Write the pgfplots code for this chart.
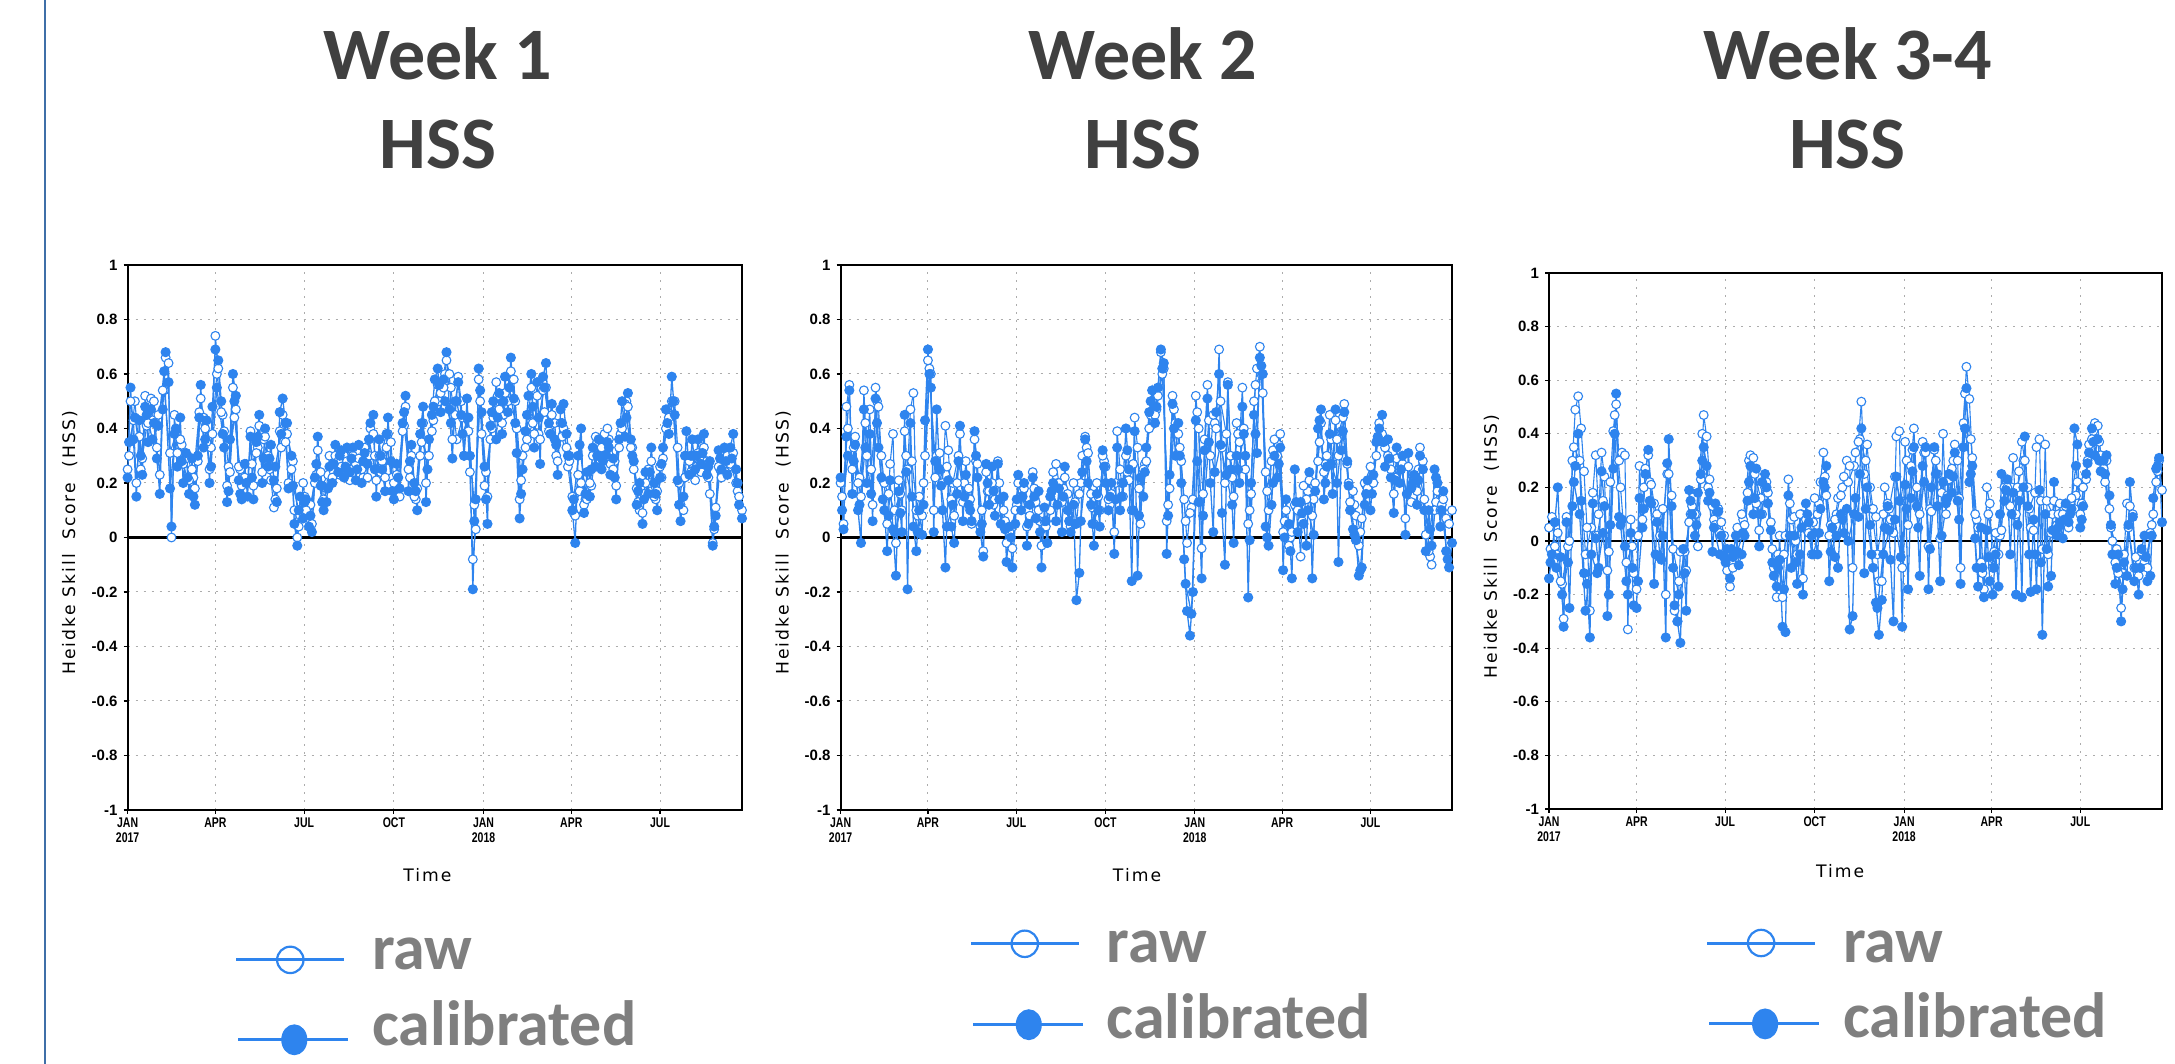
\documentclass[border=0pt]{standalone}
\usepackage{pgfplots}
\pgfplotsset{compat=1.18}
\usepackage{pgfplotstable}
\usepackage{fontspec}
\setmainfont{Liberation Sans}
\newfontfamily\carlito{Carlito}
\newfontfamily\ylfont[LetterSpace=12]{DejaVu Sans}
\newfontfamily\xlfont[FakeStretch=0.75]{Liberation Sans}
\definecolor{hblue}{HTML}{2E84EE}
\definecolor{ttl}{HTML}{404040}
\definecolor{lgd}{HTML}{7F7F7F}
\definecolor{edge}{HTML}{3F6FA8}

\pgfplotstableread[row sep=\\]{d c r\\
0 .22 .25\\ 3 .55 .5\\ 6 .36 .43\\ 9 .15 .2\\ 12 .43 .37\\ 15 .23 .29\\ 18 .48 .52\\ 21 .35 .42\\
24 .47 .51\\ 27 .42 .5\\ 30 .29 .33\\ 33 .16 .23\\ 36 .47 .54\\ 39 .68 .66\\ 42 .57 .64\\ 45 .04 .0\\
48 .38 .45\\ 51 .26 .31\\ 54 .44 .36\\ 57 .2 .27\\ 60 .31 .29\\ 63 .16 .21\\ 66 .29 .25\\ 69 .12 .18\\
72 .3 .28\\ 75 .56 .51\\ 78 .33 .44\\ 81 .43 .35\\ 84 .2 .25\\ 87 .48 .38\\ 90 .69 .74\\ 93 .65 .62\\
96 .5 .46\\ 99 .33 .39\\ 102 .13 .19\\ 105 .36 .24\\ 108 .6 .55\\ 111 .52 .47\\ 114 .21 .26\\ 117 .14 .19\\
120 .27 .22\\ 123 .15 .2\\ 126 .37 .39\\ 129 .14 .19\\ 132 .35 .31\\ 135 .45 .41\\ 138 .2 .24\\ 141 .4 .37\\
144 .26 .3\\ 147 .34 .21\\ 150 .21 .11\\ 153 .13 .18\\ 156 .46 .39\\ 159 .51 .45\\ 162 .42 .35\\ 165 .18 .2\\
168 .3 .25\\ 171 .05 .1\\ 174 -.03 .0\\ 177 .15 .08\\ 180 .07 .2\\ 183 .14 .1\\ 186 .04 .07\\ 189 .02 .05\\
192 .22 .2\\ 195 .37 .32\\ 198 .19 .24\\ 201 .1 .14\\ 204 .13 .18\\ 207 .26 .3\\ 210 .2 .22\\ 213 .34 .3\\
216 .24 .28\\ 219 .32 .26\\ 222 .22 .3\\ 225 .33 .28\\ 228 .24 .21\\ 231 .33 .3\\ 234 .21 .27\\ 237 .34 .29\\
240 .2 .25\\ 243 .31 .33\\ 246 .27 .22\\ 249 .42 .4\\ 252 .45 .38\\ 255 .15 .21\\ 258 .36 .3\\ 261 .25 .28\\
264 .17 .22\\ 267 .44 .38\\ 270 .28 .35\\ 273 .14 .2\\ 276 .27 .23\\ 279 .18 .15\\ 282 .42 .39\\ 285 .52 .48\\
288 .17 .25\\ 291 .34 .3\\ 294 .2 .15\\ 297 .1 .18\\ 300 .38 .3\\ 303 .48 .42\\ 306 .13 .2\\ 309 .36 .3\\
312 .45 .39\\ 315 .58 .5\\ 318 .62 .56\\ 321 .46 .53\\ 324 .58 .55\\ 327 .68 .65\\ 330 .47 .6\\ 333 .29 .36\\
336 .5 .45\\ 339 .57 .59\\ 342 .45 .5\\ 345 .3 .3\\ 348 .51 .44\\ 351 .3 .24\\ 354 -.19 -.08\\ 357 .14 .03\\
360 .62 .58\\ 363 .46 .38\\ 366 .26 .19\\ 369 .05 .15\\ 372 .41 .36\\ 375 .5 .44\\ 378 .36 .57\\ 381 .53 .47\\
384 .38 .42\\ 387 .59 .53\\ 390 .46 .5\\ 393 .66 .61\\ 396 .51 .58\\ 399 .31 .4\\ 402 .07 .14\\ 405 .25 .3\\
408 .39 .33\\ 411 .52 .45\\ 414 .6 .55\\ 417 .33 .38\\ 420 .57 .52\\ 423 .27 .36\\ 426 .59 .54\\ 429 .64 .55\\
432 .42 .39\\ 435 .49 .45\\ 438 .36 .42\\ 441 .23 .28\\ 444 .47 .42\\ 447 .49 .4\\ 450 .38 .33\\ 453 .3 .28\\
456 .1 .15\\ 459 -.02 .08\\ 462 .3 .23\\ 465 .4 .2\\ 468 .09 .12\\ 471 .24 .14\\ 474 .15 .2\\ 477 .33 .3\\
480 .26 .37\\ 483 .36 .3\\ 486 .25 .33\\ 489 .3 .38\\ 492 .35 .4\\ 495 .23 .27\\ 498 .29 .25\\ 501 .14 .19\\
504 .36 .33\\ 507 .5 .4\\ 510 .37 .49\\ 513 .53 .48\\ 516 .36 .33\\ 519 .28 .25\\ 522 .12 .18\\ 525 .2 .1\\
528 .05 .09\\ 531 .24 .2\\ 534 .16 .25\\ 537 .33 .28\\ 540 .2 .15\\ 543 .1 .17\\ 546 .22 .26\\ 549 .33 .29\\
552 .47 .4\\ 555 .38 .44\\ 558 .59 .5\\ 561 .45 .5\\ 564 .21 .33\\ 567 .06 .12\\ 570 .15 .1\\ 573 .39 .3\\
576 .23 .28\\ 579 .36 .3\\ 582 .25 .21\\ 585 .36 .31\\ 588 .27 .24\\ 591 .38 .33\\ 594 .23 .28\\ 597 .28 .16\\
600 -.03 -.02\\ 603 .08 .11\\ 606 .32 .26\\ 609 .25 .22\\ 612 .33 .29\\ 615 .23 .3\\ 618 .33 .27\\ 621 .38 .31\\
624 .25 .2\\ 627 .12 .15\\ 630 .07 .1\\
}\tA
\pgfplotstableread[row sep=\\]{d c r\\
1.5 .35 .3\\ 7.5 .44 .5\\ 13.5 .3 .25\\ 19.5 .45 .41\\ 25.5 .36 .43\\ 31.5 .41 .45\\ 37.5 .61 .54\\ 43.5 .18 .31\\
49.5 .4 .38\\ 55.5 .28 .34\\ 61.5 .22 .3\\ 67.5 .15 .22\\ 73.5 .44 .46\\ 79.5 .36 .4\\ 85.5 .26 .33\\ 91.5 .55 .6\\
97.5 .38 .45\\ 103.5 .17 .26\\ 109.5 .5 .44\\ 115.5 .16 .25\\ 121.5 .2 .27\\ 127.5 .22 .27\\ 133.5 .37 .33\\ 139.5 .29 .36\\
145.5 .29 .25\\ 151.5 .26 .14\\ 157.5 .38 .33\\ 163.5 .42 .38\\ 169.5 .19 .28\\ 175.5 .1 .04\\ 181.5 .13 .15\\ 187.5 .08 .12\\
193.5 .27 .23\\ 199.5 .13 .19\\ 205.5 .18 .23\\ 211.5 .27 .24\\ 217.5 .3 .23\\ 223.5 .26 .3\\ 229.5 .29 .25\\ 235.5 .25 .31\\
241.5 .28 .22\\ 247.5 .36 .3\\ 253.5 .25 .3\\ 259.5 .3 .24\\ 265.5 .38 .33\\ 271.5 .17 .22\\ 277.5 .22 .18\\ 283.5 .46 .41\\
289.5 .28 .22\\ 295.5 .17 .14\\ 301.5 .42 .35\\ 307.5 .25 .3\\ 313.5 .48 .43\\ 319.5 .56 .5\\ 325.5 .5 .6\\ 331.5 .42 .55\\
337.5 .5 .36\\ 343.5 .38 .44\\ 349.5 .44 .39\\ 355.5 .06 .12\\ 361.5 .54 .5\\ 367.5 .14 .24\\ 373.5 .46 .4\\ 379.5 .44 .52\\
385.5 .5 .45\\ 391.5 .55 .59\\ 397.5 .42 .5\\ 403.5 .16 .21\\ 409.5 .45 .36\\ 415.5 .48 .42\\ 421.5 .44 .38\\ 427.5 .55 .46\\
433.5 .38 .42\\ 439.5 .34 .3\\ 445.5 .42 .37\\ 451.5 .3 .26\\ 457.5 .14 .09\\ 463.5 .34 .17\\ 469.5 .16 .14\\ 475.5 .25 .19\\
481.5 .3 .35\\ 487.5 .28 .32\\ 493.5 .33 .36\\ 499.5 .22 .28\\ 505.5 .42 .38\\ 511.5 .44 .5\\ 517.5 .3 .33\\ 523.5 .17 .13\\
529.5 .14 .16\\ 535.5 .24 .2\\ 541.5 .16 .14\\ 547.5 .27 .22\\ 553.5 .42 .47\\ 559.5 .5 .45\\ 565.5 .12 .2\\ 571.5 .3 .22\\
577.5 .3 .24\\ 583.5 .3 .26\\ 589.5 .31 .28\\ 595.5 .26 .22\\ 601.5 .04 .03\\ 607.5 .29 .25\\ 613.5 .28 .24\\ 619.5 .29 .26\\ 625.5 .2 .17\\
}\tAx

\pgfplotstableread[row sep=\\]{d c r\\
0 .22 .2\\ 3 .03 .05\\ 6 .37 .48\\ 9 .54 .56\\ 12 .16 .25\\ 15 .34 .37\\ 18 .1 .2\\ 21 -.02 .15\\
24 .47 .54\\ 27 .2 .3\\ 30 .38 .47\\ 33 .06 .12\\ 36 .51 .55\\ 39 .33 .48\\ 42 .22 .3\\ 45 .1 .2\\
48 -.05 .05\\ 51 .21 .27\\ 54 .03 .38\\ 57 -.14 -.02\\ 60 .17 .21\\ 63 .02 .1\\ 66 .45 .39\\ 69 -.19 .25\\
72 .42 .47\\ 75 .04 .53\\ 78 -.05 .1\\ 81 .1 .15\\ 84 .01 .08\\ 87 .43 .3\\ 90 .69 .65\\ 93 .55 .6\\
96 .02 .1\\ 99 .47 .3\\ 102 .25 .31\\ 105 .1 .2\\ 108 -.11 .41\\ 111 .21 .32\\ 114 .04 .14\\ 117 -.02 .08\\
120 .16 .2\\ 123 .41 .38\\ 126 .06 .13\\ 129 .23 .28\\ 132 .12 .18\\ 135 .06 .05\\ 138 .39 .36\\ 141 .22 .27\\
144 .02 .04\\ 147 -.07 -.05\\ 150 .27 .24\\ 153 .12 .17\\ 156 .26 .2\\ 159 .08 .14\\ 162 .27 .28\\ 165 .05 .14\\
168 .15 .1\\ 171 -.09 -.02\\ 174 .04 .02\\ 177 -.11 -.04\\ 180 .05 .1\\ 183 .23 .2\\ 186 .1 .15\\ 189 .2 .18\\
192 -.03 .04\\ 195 .12 .08\\ 198 .22 .24\\ 201 .07 .13\\ 204 .17 .1\\ 207 -.11 -.03\\ 210 .11 .06\\ 213 -.02 -.02\\
216 .15 .1\\ 219 .2 .24\\ 222 .06 .27\\ 225 .18 .2\\ 228 .02 .13\\ 231 .26 .22\\ 234 .1 .16\\ 237 .02 .04\\
240 .12 .2\\ 243 -.23 .05\\ 246 -.13 .16\\ 249 .24 .3\\ 252 .36 .37\\ 255 .2 .31\\ 258 .12 .16\\ 261 -.03 .05\\
264 .16 .2\\ 267 .04 .1\\ 270 .32 .3\\ 273 .2 .26\\ 276 .1 .14\\ 279 .2 .16\\ 282 -.06 .02\\ 285 .33 .39\\
288 .1 .25\\ 291 .2 .15\\ 294 .4 .3\\ 297 .25 .21\\ 300 -.16 .1\\ 303 .39 .44\\ 306 -.14 .33\\ 309 .22 .05\\
312 .15 .25\\ 315 .33 .28\\ 318 .46 .4\\ 321 .54 .5\\ 324 .42 .45\\ 327 .55 .52\\ 330 .69 .68\\ 333 .64 .62\\
336 -.06 .06\\ 339 .23 .18\\ 342 .49 .52\\ 345 .3 .42\\ 348 .42 .38\\ 351 .2 .28\\ 354 -.08 .14\\ 357 -.27 -.02\\
360 -.36 .09\\ 363 -.2 .14\\ 366 .43 .52\\ 369 .13 .4\\ 372 -.15 -.04\\ 375 .32 .36\\ 378 .51 .56\\ 381 .2 .3\\
384 .02 .45\\ 387 .46 .4\\ 390 .6 .69\\ 393 .09 .33\\ 396 -.1 .2\\ 399 .56 .57\\ 402 .25 .3\\ 405 -.02 .15\\
408 .3 .42\\ 411 .2 .35\\ 414 .48 .55\\ 417 .3 .25\\ 420 -.22 .05\\ 423 .2 .16\\ 426 .45 .5\\ 429 .31 .62\\
432 .66 .7\\ 435 .6 .53\\ 438 .04 .24\\ 441 -.03 .1\\ 444 .12 .28\\ 447 .3 .36\\ 450 .22 .3\\ 453 .33 .38\\
456 -.12 .02\\ 459 .14 .1\\ 462 .05 -.03\\ 465 -.15 .02\\ 468 .25 .12\\ 471 .02 .1\\ 474 .13 -.07\\ 477 .05 .19\\
480 -.03 .14\\ 483 .24 .21\\ 486 -.15 .08\\ 489 .17 .2\\ 492 .4 .28\\ 495 .47 .42\\ 498 .14 .24\\ 501 .26 .3\\
504 .38 .45\\ 507 .16 .27\\ 510 .47 .43\\ 513 -.09 .3\\ 516 .32 .39\\ 519 .46 .49\\ 522 .28 .27\\ 525 .1 .13\\
528 .03 .17\\ 531 -.01 .08\\ 534 -.14 -.03\\ 537 -.11 .07\\ 540 .12 .2\\ 543 .21 .18\\ 546 .1 .26\\ 549 .23 .2\\
552 .35 .3\\ 555 .4 .42\\ 558 .45 .38\\ 561 .26 .33\\ 564 .36 .3\\ 567 .22 .25\\ 570 .09 .16\\ 573 .33 .29\\
576 .2 .25\\ 579 .3 .27\\ 582 .01 .07\\ 585 .31 .26\\ 588 .18 .13\\ 591 .23 .2\\ 594 .12 .17\\ 597 .3 .33\\
600 .25 .28\\ 603 -.05 .01\\ 606 .1 -.05\\ 609 -.03 -.1\\ 612 .25 .1\\ 615 .2 .17\\ 618 .04 .1\\ 621 .17 .14\\
624 -.05 .07\\ 627 -.11 .05\\ 630 -.02 .1\\
}\tB
\pgfplotstableread[row sep=\\]{d c r\\
1.5 .1 .15\\ 7.5 .3 .4\\ 13.5 .28 .33\\ 19.5 .12 .22\\ 25.5 .33 .42\\ 31.5 .16 .25\\ 37.5 .42 .5\\ 43.5 .14 .21\\
49.5 .08 .16\\ 55.5 .02 .1\\ 61.5 .09 .16\\ 67.5 .24 .3\\ 73.5 .15 .28\\ 79.5 .02 .08\\ 85.5 .12 .2\\ 91.5 .6 .62\\
97.5 .28 .22\\ 103.5 .19 .25\\ 109.5 .04 .26\\ 115.5 .12 .2\\ 121.5 .28 .3\\ 127.5 .15 .2\\ 133.5 .1 .14\\ 139.5 .3 .28\\
145.5 .05 .1\\ 151.5 .2 .17\\ 157.5 .17 .12\\ 163.5 .14 .2\\ 169.5 .03 .06\\ 175.5 .0 .03\\ 181.5 .14 .12\\ 187.5 .15 .17\\
193.5 .05 .1\\ 199.5 .15 .18\\ 205.5 .02 .06\\ 211.5 .06 .04\\ 217.5 .17 .17\\ 223.5 .12 .2\\ 229.5 .15 .18\\ 235.5 .06 .1\\
241.5 .05 .13\\ 247.5 .06 .2\\ 253.5 .28 .33\\ 259.5 .05 .11\\ 265.5 .1 .15\\ 271.5 .26 .28\\ 277.5 .15 .12\\ 283.5 .14 .2\\
289.5 .15 .2\\ 295.5 .32 .24\\ 301.5 .1 .27\\ 307.5 .08 .18\\ 313.5 .24 .27\\ 319.5 .5 .45\\ 325.5 .48 .47\\ 331.5 .62 .6\\
337.5 .08 .12\\ 343.5 .4 .47\\ 349.5 .3 .33\\ 355.5 -.17 .06\\ 361.5 -.28 .11\\ 367.5 .28 .46\\ 373.5 .08 .16\\ 379.5 .35 .43\\
385.5 .24 .42\\ 391.5 .34 .5\\ 397.5 .23 .38\\ 403.5 .12 .22\\ 409.5 .25 .38\\ 415.5 .38 .4\\ 421.5 -.01 .1\\ 427.5 .38 .56\\
433.5 .63 .6\\ 439.5 .0 .17\\ 445.5 .2 .32\\ 451.5 .27 .34\\ 457.5 .0 .06\\ 463.5 -.05 .0\\ 469.5 .13 .11\\ 475.5 .09 .06\\
481.5 .1 .17\\ 487.5 .01 .14\\ 493.5 .43 .35\\ 499.5 .2 .27\\ 505.5 .27 .36\\ 511.5 .2 .36\\ 517.5 .39 .44\\ 523.5 .19 .2\\
529.5 .01 .12\\ 535.5 -.12 .02\\ 541.5 .16 .19\\ 547.5 .16 .23\\ 553.5 .37 .36\\ 559.5 .35 .35\\ 565.5 .29 .27\\ 571.5 .21 .22\\
577.5 .25 .26\\ 583.5 .16 .16\\ 589.5 .2 .15\\ 595.5 .21 .25\\ 601.5 .1 .14\\ 607.5 .03 -.07\\ 613.5 .22 .13\\ 619.5 .1 .12\\ 625.5 -.08 .06\\
}\tBx

\pgfplotstableread[row sep=\\]{d c r\\
0 -.14 .05\\ 3 -.05 .09\\ 6 .07 -.02\\ 9 .2 .03\\ 12 -.06 -.15\\ 15 -.32 -.29\\ 18 .07 .09\\ 21 -.25 .0\\
24 .13 .3\\ 27 .28 .49\\ 30 .4 .54\\ 33 .15 .42\\ 36 -.12 .26\\ 39 -.16 .05\\ 42 -.36 -.26\\ 45 .14 .18\\
48 .01 .32\\ 51 -.1 .1\\ 54 .26 .33\\ 57 .13 .24\\ 60 -.28 -.11\\ 63 .06 .22\\ 66 .27 .41\\ 69 .55 .51\\
72 .09 .3\\ 75 .08 .33\\ 78 -.02 .32\\ 81 -.2 -.33\\ 84 .03 .08\\ 87 -.24 -.12\\ 90 -.25 -.18\\ 93 .16 .28\\
96 .05 .08\\ 99 .25 .27\\ 102 .34 .32\\ 105 .14 .21\\ 108 -.16 .14\\ 111 .07 .1\\ 114 -.06 .02\\ 117 .02 .12\\
120 -.36 -.2\\ 123 .38 .25\\ 126 .13 .17\\ 129 -.24 -.26\\ 132 -.3 -.3\\ 135 -.38 -.04\\ 138 -.03 -.03\\ 141 -.26 -.11\\
144 .19 .07\\ 147 .1 .13\\ 150 .02 .1\\ 153 .18 -.02\\ 156 .25 .23\\ 159 .35 .47\\ 162 .28 .39\\ 165 .18 .23\\
168 -.04 .13\\ 171 .14 .06\\ 174 .11 .12\\ 177 .02 .07\\ 180 -.06 .02\\ 183 -.03 -.11\\ 186 -.14 -.17\\ 189 -.06 -.1\\
192 .02 -.05\\ 195 -.09 .02\\ 198 -.05 .1\\ 201 .02 .06\\ 204 .15 .18\\ 207 .28 .32\\ 210 .1 .31\\ 213 .27 .14\\
216 -.02 .04\\ 219 .22 .1\\ 222 .25 .2\\ 225 .14 .18\\ 228 .04 .07\\ 231 -.13 -.1\\ 234 -.17 -.21\\ 237 -.07 .02\\
240 -.32 -.21\\ 243 -.34 .02\\ 246 .17 .23\\ 249 -.1 .08\\ 252 .02 .09\\ 255 -.16 -.05\\ 258 -.05 .1\\ 261 -.2 -.14\\
264 .14 .08\\ 267 .07 .03\\ 270 .02 -.05\\ 273 .03 .16\\ 276 -.05 .1\\ 279 .12 .22\\ 282 .22 .33\\ 285 .28 .17\\
288 -.15 .02\\ 291 .05 .05\\ 294 -.06 .08\\ 297 -.1 .16\\ 300 .1 .17\\ 303 .03 .24\\ 306 .12 .3\\ 309 -.33 .28\\
312 -.28 -.1\\ 315 .16 .33\\ 318 .09 .37\\ 321 .42 .52\\ 324 -.12 .25\\ 327 .2 .36\\ 330 .06 .2\\ 333 -.1 .12\\
336 -.23 .09\\ 339 -.35 -.15\\ 342 -.22 -.15\\ 345 .05 .2\\ 348 .13 .14\\ 351 -.07 .08\\ 354 -.3 .03\\ 357 .24 .39\\
360 .15 .41\\ 363 -.32 -.1\\ 366 .21 .37\\ 369 -.18 .06\\ 372 .16 .28\\ 375 .35 .42\\ 378 .13 .2\\ 381 -.13 .1\\
384 .28 .37\\ 387 .35 .33\\ 390 -.18 -.02\\ 393 .2 .11\\ 396 .35 .34\\ 399 .13 .25\\ 402 -.15 .01\\ 405 .22 .4\\
408 .14 .1\\ 411 .25 .23\\ 414 .18 .27\\ 417 .33 .36\\ 420 .15 .3\\ 423 -.16 -.1\\ 426 .35 .44\\ 429 .57 .65\\
432 .22 .53\\ 435 .28 .31\\ 438 .01 .1\\ 441 -.17 .05\\ 444 .05 -.08\\ 447 -.21 -.18\\ 450 .04 .2\\ 453 -.15 .14\\
456 -.2 -.1\\ 459 -.05 .03\\ 462 -.17 -.05\\ 465 .25 .04\\ 468 .15 .2\\ 471 .23 .2\\ 474 -.05 .13\\ 477 .18 .31\\
480 -.2 .1\\ 483 .15 .26\\ 486 -.21 .37\\ 489 .39 .3\\ 492 .13 .2\\ 495 -.19 .05\\ 498 .08 .04\\ 501 -.18 .35\\
504 .19 .38\\ 507 -.35 -.03\\ 510 .1 .36\\ 513 -.17 -.05\\ 516 -.13 .03\\ 519 .22 .15\\ 522 .02 .06\\ 525 .07 .14\\
528 .01 .1\\ 531 .14 .13\\ 534 .07 .05\\ 537 .12 .16\\ 540 .42 .12\\ 543 .36 .22\\ 546 .05 .1\\ 549 .13 .2\\
552 .25 .23\\ 555 .33 .36\\ 558 .42 .38\\ 561 .32 .44\\ 564 .38 .43\\ 567 .26 .32\\ 570 .3 .27\\ 573 .32 .3\\
576 .17 .12\\ 579 -.05 .0\\ 582 -.16 -.08\\ 585 -.05 -.12\\ 588 -.3 -.25\\ 591 -.08 -.05\\ 594 -.13 .14\\ 597 .22 .13\\
600 .09 .1\\ 603 -.1 -.06\\ 606 -.2 -.13\\ 609 -.03 -.04\\ 612 .02 -.08\\ 615 -.15 -.1\\ 618 -.13 .03\\ 621 .16 .1\\
624 .27 .22\\ 627 .31 .3\\ 630 .07 .19\\
}\tC
\pgfplotstableread[row sep=\\]{d c r\\
1.5 -.08 -.03\\ 7.5 -.1 -.05\\ 13.5 -.2 -.16\\ 19.5 -.08 -.02\\ 25.5 .22 .35\\ 31.5 .1 .3\\ 37.5 -.26 -.05\\ 43.5 -.05 .05\\
49.5 -.12 .02\\ 55.5 .03 .15\\ 61.5 -.2 -.04\\ 67.5 .4 .47\\ 73.5 .06 .2\\ 79.5 -.15 -.08\\ 85.5 -.1 -.02\\ 91.5 -.15 .02\\
97.5 .12 .2\\ 103.5 .15 .22\\ 109.5 -.05 .08\\ 115.5 -.07 .02\\ 121.5 .29 .25\\ 127.5 -.1 -.03\\ 133.5 -.2 -.15\\ 139.5 -.12 -.04\\
145.5 .15 .1\\ 151.5 .06 .1\\ 157.5 .3 .4\\ 163.5 .15 .2\\ 169.5 .05 .08\\ 175.5 -.05 .03\\ 181.5 -.08 -.04\\ 187.5 -.03 -.08\\
193.5 -.04 .05\\ 199.5 .03 .08\\ 205.5 .22 .3\\ 211.5 .16 .25\\ 217.5 .1 .16\\ 223.5 .2 .22\\ 229.5 -.08 -.03\\ 235.5 -.1 -.05\\
241.5 -.18 -.05\\ 247.5 .02 .14\\ 253.5 -.08 .0\\ 259.5 .05 .1\\ 265.5 .1 .04\\ 271.5 -.05 .07\\ 277.5 .03 .14\\ 283.5 .2 .24\\
289.5 -.04 .06\\ 295.5 .02 .1\\ 301.5 .08 .2\\ 307.5 .0 .22\\ 313.5 .1 .28\\ 319.5 .25 .38\\ 325.5 .12 .3\\ 331.5 -.05 .12\\
337.5 -.25 -.05\\ 343.5 -.05 .1\\ 349.5 .04 .12\\ 355.5 .08 .24\\ 361.5 -.06 .15\\ 367.5 .12 .3\\ 373.5 .26 .34\\ 379.5 .05 .12\\
385.5 .22 .33\\ 391.5 -.03 .12\\ 397.5 .25 .3\\ 403.5 .02 .18\\ 409.5 .16 .17\\ 415.5 .24 .3\\ 421.5 .08 .16\\ 427.5 .42 .55\\
433.5 .25 .38\\ 439.5 -.1 .08\\ 445.5 -.1 -.12\\ 451.5 -.06 .1\\ 457.5 -.1 -.04\\ 463.5 .1 .02\\ 469.5 .19 .2\\ 475.5 .1 .2\\
481.5 .06 .2\\ 487.5 .2 .3\\ 493.5 -.05 .12\\ 499.5 -.05 .18\\ 505.5 -.08 .15\\ 511.5 -.03 .15\\ 517.5 .04 .1\\ 523.5 .05 .1\\
529.5 .08 .12\\ 535.5 .1 .14\\ 541.5 .28 .17\\ 547.5 .08 .14\\ 553.5 .29 .3\\ 559.5 .37 .41\\ 565.5 .3 .37\\ 571.5 .25 .22\\
577.5 .06 .05\\ 583.5 -.1 -.03\\ 589.5 -.18 -.12\\ 595.5 .06 .05\\ 601.5 -.15 -.1\\ 607.5 -.1 -.08\\ 613.5 -.06 -.08\\ 619.5 .02 .06\\ 625.5 .28 .26\\
}\tCx

\tikzset{
  ylab/.style={at={(axis description cs:-0.094,0.49)}, anchor=center, rotate=90, font=\ylfont\fontsize{8.6}{10}\selectfont},
  xlab/.style={at={(axis description cs:#1)}, anchor=center, font=\ylfont\fontsize{8.6}{10}\selectfont},
}
\pgfplotsset{
  hss/.style={
    scale only axis, anchor=south west,
    xmin=0, xmax=630, ymin=-1, ymax=1,
    xtick={0,90,181,273,365,455,546},
    xticklabels={{JAN\\2017},APR,JUL,OCT,{JAN\\2018},APR,JUL},
    xticklabel style={font=\xlfont\bfseries\fontsize{7}{7.6}\selectfont, align=center, yshift=1.5pt, anchor=north},
    ytick={-1,-0.8,-0.6,-0.4,-0.2,0,0.2,0.4,0.6,0.8,1},
    yticklabels={-1,-0.8,-0.6,-0.4,-0.2,0,0.2,0.4,0.6,0.8,1},
    yticklabel style={font=\bfseries\fontsize{7.5}{8}\selectfont, xshift=0.5pt},
    tick pos=left, tick align=outside,
    major tick length=2pt,
    tick style={black, line width=0.6pt},
    axis line style={black, line width=1pt},
    grid=major,
    grid style={gray!65, line width=0.5pt, dash pattern=on 1pt off 3pt},
    ylabel={Heidke Skill\ \ Score\ \ (HSS)},
    xlabel={Time},
    legend style={draw=none, fill=none, inner sep=0pt, outer sep=0pt,
      font=\carlito\bfseries\fontsize{32}{32}\selectfont,
      text=lgd, row sep=10pt,
      /tikz/every even column/.append style={column sep=0pt},
      cells={anchor=base west}},
  },
  rawline/.style={hblue, line width=0.55pt, mark=*, mark size=2.2pt,
    mark options={solid, fill=white, draw=hblue, line width=0.55pt}},
  calline/.style={hblue, line width=0.65pt, mark=*, mark size=2.2pt,
    mark options={solid, fill=hblue, draw=hblue}},
  rawp/.style={rawline,
    legend image code/.code={
      \draw[hblue, line width=1.5pt] (0pt,#1pt)--(54pt,#1pt);
      \draw[hblue, line width=1.1pt, fill=none] (27pt,#1pt) ellipse (6.6pt and 6.6pt);
      \path[draw=none] (0pt,0pt)--(66pt,0pt);}},
  calp/.style={calline,
    legend image code/.code={
      \draw[hblue, line width=1.5pt] (1pt,#1pt)--(56pt,#1pt);
      \fill[hblue] (29pt,#1pt) ellipse (6.2pt and 7.4pt);
      \path[draw=none] (0pt,0pt)--(66pt,0pt);}},
}

\begin{document}
\begin{tikzpicture}[x=1pt,y=1pt]
\useasboundingbox (0,0) rectangle (1087.5,532);
\draw[edge, line width=1pt] (22.5,0)--(22.5,532);

\foreach \cx/\a/\b in {219/Week 1/HSS, 571.5/Week 2/HSS, 923.8/Week 3-4/HSS}{
  \node[anchor=base, text=ttl, font=\carlito\bfseries\fontsize{37}{37}\selectfont, inner sep=0pt] at (\cx,492) {\a};
  \node[anchor=base, text=ttl, font=\carlito\bfseries\fontsize{37}{37}\selectfont, inner sep=0pt] at (\cx,447.5) {\b};
}

\begin{axis}[hss, at={(63.8pt,127pt)}, width=307.2pt, height=272.5pt,
  every axis y label/.style={ylab},
  every axis x label/.style={xlab={0.488,-0.119}},
  legend style={at={(axis description cs:0.1745,-0.228)}, anchor=north west}]
\addplot[black, line width=1.1pt, forget plot] coordinates {(0,0)(630,0)};
\addplot[rawline, forget plot] table[x=d,y=r]{\tAx};
\addplot[rawp=5] table[x=d,y=r]{\tA};
\addplot[calline, forget plot] table[x=d,y=c]{\tAx};
\addplot[calp=3] table[x=d,y=c]{\tA};
\legend{raw,calibrated}
\end{axis}

\begin{axis}[hss, at={(420.3pt,127pt)}, width=305.7pt, height=272.5pt,
  every axis y label/.style={ylab},
  every axis x label/.style={xlab={0.485,-0.119}},
  legend style={at={(axis description cs:0.2105,-0.215)}, anchor=north west}]
\addplot[black, line width=1.1pt, forget plot] coordinates {(0,0)(630,0)};
\addplot[rawline, forget plot] table[x=d,y=r]{\tBx};
\addplot[rawp=9.5] table[x=d,y=r]{\tB};
\addplot[calline, forget plot] table[x=d,y=c]{\tBx};
\addplot[calp=7] table[x=d,y=c]{\tB};
\legend{raw,calibrated}
\end{axis}

\begin{axis}[hss, at={(774.5pt,127.5pt)}, width=306.5pt, height=268pt,
  every axis y label/.style={ylab},
  every axis x label/.style={xlab={0.475,-0.116}},
  legend style={at={(axis description cs:0.2555,-0.219)}, anchor=north west}]
\addplot[black, line width=1.1pt, forget plot] coordinates {(0,0)(630,0)};
\addplot[rawline, forget plot] table[x=d,y=r]{\tCx};
\addplot[rawp=9.5] table[x=d,y=r]{\tC};
\addplot[calline, forget plot] table[x=d,y=c]{\tCx};
\addplot[calp=7] table[x=d,y=c]{\tC};
\legend{raw,calibrated}
\end{axis}
\end{tikzpicture}
\end{document}
